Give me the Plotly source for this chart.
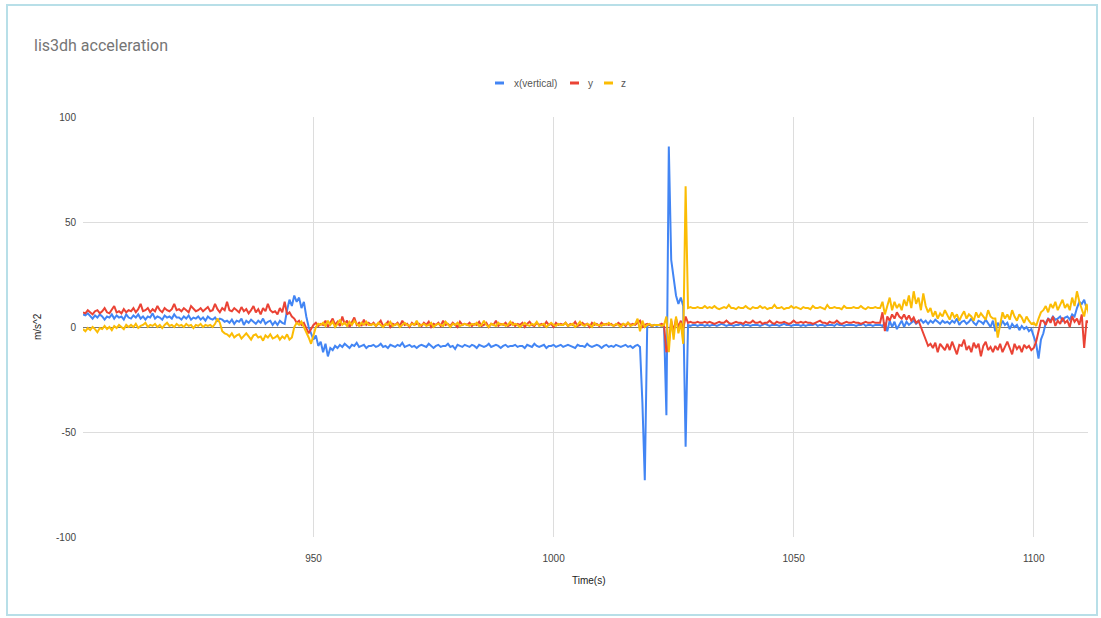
import plotly.graph_objects as go

# ---------------- data ----------------
t_start = 902.0
t_step = 0.5

x_vertical = [
    6, 5.5, 6.5, 5, 4, 5.5, 4.5, 6, 5, 3.5, 5, 4.5, 6, 4, 5.5, 4.5, 5, 3.5, 6, 4.5,
    4, 5.5, 4.5, 6, 4, 5, 3.5, 5, 4.5, 6.5, 4, 5, 4.5, 3.5, 5.5, 4.5, 5, 4, 6, 4.5,
    4.5, 3.5, 5, 4, 5.5, 3.5, 4.5, 4, 5, 3.5, 4.5, 3, 5, 4, 3.5, 4.5, 3, 4, 3.5, 2.5,
    3, 2, 3.5, 1.5, 3, 2.5, 4, 1, 3, 2, 3.5, 2.5, 1.5, 3, 2, 4, 1.5, 2.5, 3, 1,
    2.5, 1, 3, 2, 1.5, 8, 13, 10, 15, 12, 14, 9, 12, 5, 0, -3, -6, -4, -9, -7,
    -12, -8, -14, -10, -11, -9, -10, -8.5, -9.5, -8, -9, -10, -8.5, -9, -7.5, -9.5, -9, -8.5, -10, -9,
    -9, -8.5, -9.5, -9, -8, -9.5, -9, -10, -8.5, -9, -9.5, -8.5, -9, -7.5, -9.5, -9, -8.5, -9.5, -9, -10,
    -9, -8.5, -9, -9.5, -8, -9, -10, -9, -8.5, -9.5, -9, -9, -8, -9.5, -9, -10.5, -8.5, -9, -9.5, -8.5,
    -9, -9.5, -8.5, -9, -10, -8.5, -9, -9.5, -9, -8, -9.5, -9, -8.5, -9, -10, -9, -8.5, -9.5, -9, -9,
    -8.5, -9.5, -9, -9, -10, -8.5, -9, -9.5, -8, -9, -9.5, -9, -8.5, -10, -9, -9, -8.5, -9.5, -9, -8.5,
    -9.5, -9, -8.5, -9, -9.5, -10, -8.5, -9, -9, -9.5, -8, -9, -9.5, -9, -8.5, -9, -10, -9, -8.5, -9.5,
    -9, -9.5, -8.5, -9, -9.5, -9, -8.5, -9.5, -9, -10, -9, -8.5, -9.5, -36, -73, 0.5, 1, 0.5, 1, 0.5,
    1, 0.5, 1, -42, 86, 32, 22, 15, 11, 14, 10, -57, 1, 0.5, 1, 1, 0.5, 1, 1, 0.5,
    1, 0.5, 1, 1, 0.5, 1, 1.5, 1, 0.5, 1, 1, 0.5, 1, 1, 1.5, 0.5, 1, 1, 0.5, 1,
    1, 1, 0.5, 1, 1.5, 1, 0.5, 1, 1, 1, 0.5, 1, 1.5, 1, 1, 0.5, 1, 1, 1, 0.5,
    1, 0.5, 1, 1, 1, 1.5, 0.5, 1, 1, 0.5, 1, 1, 1, 0.5, 1.5, 1, 1, 0.5, 1, 1,
    1, 1, 0.5, 1, 1, 1.5, 0.5, 1, 1, 0.5, 1, 1, 1, 0.5, 2, -2, 3, 0, 2.5, -1,
    1, 3, 0, 2.5, 1, 2, 3, 1.5, 2.5, 3.5, 2, 3, 1.5, 3, 2, 3.5, 2.5, 1.5, 3, 2,
    2.5, 1.5, 3, 2, 4, 1, 2.5, 3, 1.5, 2.5, 4, 2, 1, 3, 2.5, 1.5, 3.5, 2, 0, 3,
    -2, 2, 0, 3, 1, 2, -1, 1.5, 0, 1, -1.5, 0.5, -1, 0, -2, -1, -4, -8, -15, -6,
    -3, 2, 4, 3, 5, 3.5, 4, 5, 3, 4.5, 5, 3.5, 6, 5, 9, 12, 11, 13, 9, 10,
]

y_values = [
    7, 6.5, 8, 7, 6, 7.5, 8, 6.5, 7.5, 9, 7, 6.5, 8, 10, 7, 7.5, 6.5, 8.5, 7, 8,
    7.5, 9, 7, 8.5, 11, 7.5, 8, 9, 7, 8.5, 7.5, 10, 8, 7, 9, 8, 7.5, 8.5, 11, 8,
    8.5, 7.5, 9, 8, 7, 10, 8.5, 7.5, 8, 9, 7.5, 8.5, 9.5, 7.5, 8, 11, 8.5, 7, 9, 8,
    12, 8, 7.5, 9, 8, 7, 9.5, 7.5, 8.5, 6.5, 8, 10, 7, 8.5, 6, 9, 7.5, 11, 8, 7,
    7.5, 6, 9, 7, 12, 6, 7, 5, 4, 2, 3, 1, 2, -1, -3, -1, 1, 2, 0.5, 1.5,
    1, 3, 0, 2, 4, 1, 2.5, 0.5, 5, 1.5, 3, 0, 2, 4.5, 1, 2, 0.5, 3.5, 1, 2,
    1, 2, 0.5, 1.5, 3, 0.5, 1, 2.5, 0, 1.5, 1, 2, 0.5, 3, 1, 1.5, 0, 2, 1, 1.5,
    1.5, 0.5, 2, 1, 2.5, 0, 1.5, 1, 2, 0.5, 3, 1, 1.5, 0.5, 2, 1, 0, 2.5, 1, 1.5,
    1, 2, 0.5, 1.5, 1, 2.5, 0.5, 1, 2, 0, 1.5, 1, 3, 0.5, 1.5, 1, 2, 0.5, 1, 2,
    0.5, 1.5, 1, 2, 0, 1.5, 2.5, 1, 0.5, 2, 1, 1.5, 0.5, 2.5, 1, 1.5, 0, 2, 1, 1.5,
    1, 2, 0.5, 1.5, 1, 2.5, 0.5, 1, 2, 1, 1.5, 0, 2, 1, 1.5, 0.5, 2, 1, 1.5, 1,
    1.5, 0.5, 1, 2, 1, 1.5, 0.5, 2, 1, 1.5, 1, 2, 3, 0, 1, 1.5, 1, 0.5, 1, 1,
    1, 1.5, 1, -12, -8, 3, -2, 4, 0, 3, -1, 5, 2, 2.5, 2, 2, 2.5, 2, 2, 2.5,
    2, 2.5, 2, 1.5, 2, 2.5, 2, 2, 3, 2, 1.5, 2, 2.5, 2, 2, 1.5, 2.5, 2, 2, 3,
    2, 2, 2.5, 1.5, 2, 2, 3, 2, 1.5, 2.5, 2, 2, 2.5, 2, 1.5, 2, 3, 2, 2, 2.5,
    2, 2.5, 2, 2, 1.5, 2, 2.5, 3, 2, 2, 1.5, 2.5, 2, 2, 3, 2, 1.5, 2, 2.5, 2,
    2, 2.5, 2, 2, 1.5, 2, 2.5, 2, 2, 2.5, 2, 2, 2, 7, -2, 5, 3, 6, 4, 7,
    5, 4, 6, 3.5, 5.5, 3, 4.5, 2, 3, 0, -3, -7, -9, -8, -10, -7.5, -12, -8, -9.5, -11,
    -8, -11, -7, -10, -13, -8.5, -9, -6, -11, -9, -12, -7.5, -10, -8, -14, -9, -7, -11, -9.5, -12,
    -9, -11, -8, -12, -9.5, -7, -10, -13, -8, -10.5, -9, -12, -8.5, -10, -9, -11, -10, -7, -2, 3,
    3, 1, 4, 2, 5, 0.5, 3, 1.5, 4.5, 2, 3, 0, 5, 2.5, 4, 1, 6, -10, 3, 2,
]

z_values = [
    -1, -2, -0.5, -1.5, 0, -1, -2.5, -0.5, -1, 0.5, -1, 0, -1.5, 0.5, -0.5, 1, 0, -1, 1, 0,
    1, 0, 1.5, -0.5, 0.5, 1, 2, 0, 1, 0.5, 1.5, 0, 1, -0.5, 1, 2, 0.5, 1, 0, 1.5,
    0.5, 1, 0, 1.5, 0.5, 1, -0.5, 1, 0.5, 1.5, 0, 1, 0.5, 1, 0, 1.5, 4, 2, -2, -3,
    -3.5, -4.5, -3, -5, -4, -3.5, -5.5, -4, -3, -4.5, -6, -4, -3.5, -5, -4.5, -6.5, -4, -5, -3.5, -5.5,
    -5, -4, -6, -4.5, -5.5, -3.5, -6, -5, 0, 2, 1, 2.5, 0, -2, -5, -8, -4, 0, 1.5, 1,
    2, 0.5, 3, 1, 2.5, 0, 1.5, 3.5, 1, 2, 0.5, 2.5, 1, 3, 1.5, 0.5, 2, 1, 2.5, 1,
    1, 1.5, 0.5, 2, 1, 0, 1.5, 1, 2.5, 0.5, 1, 1.5, 0, 1, 2, 1, 0.5, 1.5, 1, 3,
    0.5, 1, 1.5, 0.5, 1, 2, 0, 1, 1.5, 1, 0.5, 2.5, 1, 0, 1.5, 1, 2, 0.5, 1, 1.5,
    1, 0.5, 1.5, 1, 2, 0.5, 1, 3, 1, 0, 1.5, 1, 0.5, 2, 1, 1.5, 0.5, 1, 2.5, 1,
    1.5, 1, 0, 1, 2, 1, 0.5, 1.5, 1, 2.5, 0.5, 1, 1.5, 0, 1, 2, 1, 0.5, 1.5, 1,
    1, 2, 0.5, 1, 1.5, 0, 1, 2.5, 1, 0.5, 1.5, 1, 0, 2, 1, 1, 0.5, 1.5, 1, 2,
    1, 0.5, 1.5, 1, 0, 1.5, 1, 2, 0.5, 1, 1.5, 4, -2, 3, 0, 1, 1.5, 0.5, 1, 1,
    1, 0.5, 1, 5, -12, 4, -6, 5, -3, 2, -8, 67, 9, 9.5, 9, 9, 9.5, 9, 9, 10,
    9, 9.5, 9, 10, 9, 8.5, 9, 9.5, 9, 10.5, 9, 9, 8.5, 9.5, 9, 9, 10, 9, 8.5, 9.5,
    9, 9, 10, 9, 9.5, 8.5, 9, 9, 10.5, 9, 9, 9.5, 8.5, 9, 9, 10, 9, 9.5, 9, 8.5,
    9.5, 9, 9, 8.5, 10, 9, 9, 9.5, 9, 8.5, 10.5, 9, 9, 9.5, 9, 9, 8.5, 10, 9, 9,
    9, 9.5, 9, 9, 10, 9, 8.5, 9.5, 9, 9, 9.5, 9, 9, 12, 6, 10, 14, 8, 12, 9,
    11, 8, 13, 10, 15, 9, 17, 11, 14, 8, 16, 10, 7, 9, 5, 7.5, 4, 6.5, 5, 8,
    5.5, 3.5, 7, 4.5, 6, 3, 5.5, 7.5, 4, 6, 5, 3, 7, 4.5, 6.5, 5, 3.5, 8, 5, 4,
    4, -5, 2, 7, 4, 6, 3.5, 8, 5, 3, 6, 4.5, 2, 5, 3, 1.5, 2, 0.5, 4, 7,
    8, 10, 7, 11, 9, 12, 8, 10.5, 13, 9, 11, 8, 14, 10, 17, 12, 9, 5, 11, 6,
]

series_names = ["x(vertical)", "y", "z"]
series_colors = ["#4285F4", "#EA4335", "#FBBC04"]
x_tick_vals = [950, 1000, 1050, 1100]
y_tick_vals = [-100, -50, 0, 50, 100]
y_tick_text = ["-100", "-50", "0", "50", "100"]

time_s = [t_start + t_step * i for i in range(len(x_vertical))]

# ---------------- figure ----------------
fig = go.Figure()
for name, vals, col in zip(series_names, [x_vertical, y_values, z_values], series_colors):
    fig.add_trace(go.Scatter(x=time_s, y=vals, mode="lines", name=name,
                             line=dict(color=col, width=2), showlegend=False))

L, R, T, B = 83, 13, 117, 81
W, H = 1101, 618
pw, ph = W - L - R, H - T - B


def px_x(px):
    return (px - L) / pw


def px_y(py):
    return (H - B - py) / ph


shapes = [
    dict(type="rect", xref="paper", yref="paper",
         x0=px_x(7), x1=px_x(1097), y0=px_y(615), y1=px_y(5),
         line=dict(color="#b8dfe8", width=2), fillcolor="rgba(0,0,0,0)", layer="below"),
]
annotations = [
    dict(text="lis3dh acceleration", xref="paper", yref="paper", x=px_x(32), y=px_y(46),
         xanchor="left", yanchor="middle", showarrow=False,
         font=dict(family="Roboto, Arial, sans-serif", size=16, color="#757575")),
    dict(text="Time(s)", xref="paper", yref="paper", x=px_x(589), y=px_y(580),
         xanchor="center", yanchor="middle", showarrow=False,
         font=dict(family="Liberation Sans, Arial, sans-serif", size=10, color="#222")),
    dict(text="m/s^2", xref="paper", yref="paper", x=px_x(37), y=px_y(327),
         xanchor="center", yanchor="middle", showarrow=False, textangle=-90,
         font=dict(family="Liberation Sans, Arial, sans-serif", size=10, color="#222")),
]

# manual legend (short thick swatches like the reference)
legend_items = [(495, 512), (570, 586), (604, 619)]
for (sx, tx), name, col in zip(legend_items, series_names, series_colors):
    shapes.append(dict(type="line", xref="paper", yref="paper",
                       x0=px_x(sx), x1=px_x(sx + 9), y0=px_y(83), y1=px_y(83),
                       line=dict(color=col, width=3)))
    annotations.append(dict(text=name, xref="paper", yref="paper", x=px_x(tx), y=px_y(83),
                            xanchor="left", yanchor="middle", showarrow=False,
                            font=dict(family="Liberation Sans, Arial, sans-serif", size=10,
                                      color="#555")))

fig.update_layout(
    width=W, height=H,
    margin=dict(l=L, r=R, t=T, b=B),
    paper_bgcolor="white", plot_bgcolor="white",
    shapes=shapes, annotations=annotations,
    showlegend=False,
    font=dict(family="Liberation Sans, Arial, sans-serif", size=10, color="#444"),
)
fig.update_xaxes(range=[902, 1111.3], tickvals=x_tick_vals, showgrid=True,
                 gridcolor="#dddddd", gridwidth=1, zeroline=False, showline=False,
                 ticks="", ticklabelstandoff=14, tickfont=dict(size=10, color="#444"))
fig.update_yaxes(range=[-100, 100], tickvals=y_tick_vals, ticktext=y_tick_text,
                 showgrid=True, gridcolor="#dddddd", gridwidth=1,
                 zeroline=True, zerolinecolor="#777777", zerolinewidth=1,
                 showline=False, ticks="", ticklabelstandoff=6,
                 tickfont=dict(size=10, color="#444"))

fig.write_html("out.html", config={"displayModeBar": False},
               post_script="document.body.style.margin='0px';document.body.style.overflow='hidden';")
